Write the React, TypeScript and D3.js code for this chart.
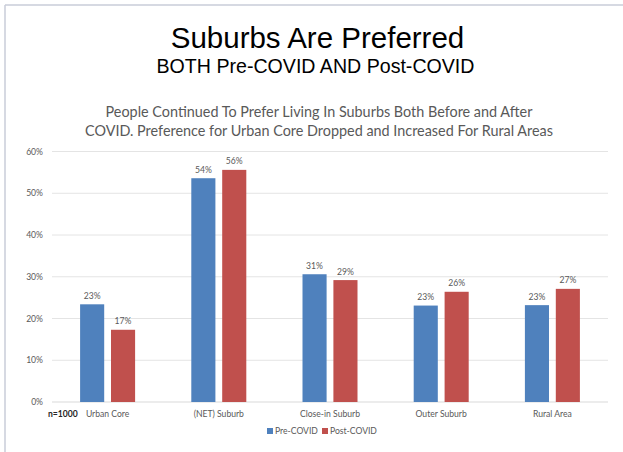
import React from "react";
import * as d3 from "d3";

const categories = ["Urban Core", "(NET) Suburb", "Close-in Suburb", "Outer Suburb", "Rural Area"];
const preCovid = [23.4, 53.6, 30.6, 23.1, 23.2];
const postCovid = [17.3, 55.6, 29.2, 26.4, 27.1];
const preLabels = ["23%", "54%", "31%", "23%", "23%"];
const postLabels = ["17%", "56%", "29%", "26%", "27%"];
const yTicks = [0, 10, 20, 30, 40, 50, 60];
const seriesNames = ["Pre-COVID", "Post-COVID"];

const W = 623;
const H = 452;
const BLUE = "#4f81bd";
const RED = "#c0504d";
const GRAY = "#595959";
const CAL = "Lato, 'Open Sans', sans-serif";
const FS = 8.6;

export default function App() {
  const x = d3.scaleBand<string>().domain(categories).range([52, 608]).paddingInner(0).paddingOuter(0);
  const y = d3.scaleLinear().domain([0, 60]).range([402, 151.5]);
  const half = 27.5;
  const inner = d3
    .scaleBand<string>()
    .domain(seriesNames)
    .range([x.bandwidth() / 2 - half, x.bandwidth() / 2 + half])
    .paddingInner(0.22)
    .paddingOuter(0);
  const series = [
    { name: seriesNames[0], values: preCovid, labels: preLabels, color: BLUE },
    { name: seriesNames[1], values: postCovid, labels: postLabels, color: RED },
  ];
  return (
    <svg width={W} height={H} style={{ position: "fixed", left: 0, top: 0, background: "#fff" }}>
      <rect x={0} y={0} width={W} height={H} fill="#fff" />
      <line x1={5} x2={W} y1={5} y2={5} stroke="#c9cdd8" strokeWidth={1.5} />
      <line x1={5} x2={5} y1={5} y2={H} stroke="#c9cdd8" strokeWidth={1.5} />
      <text x={317.5} y={48} textAnchor="middle" fontFamily="'Liberation Sans', Arial, sans-serif" fontSize={29.5} fill="#000">
        Suburbs Are Preferred
      </text>
      <text x={315.5} y={73} textAnchor="middle" fontFamily="'Liberation Sans', Arial, sans-serif" fontSize={19.6} fill="#000">
        BOTH Pre-COVID AND Post-COVID
      </text>
      <text x={319} y={117} textAnchor="middle" fontFamily={CAL} fontSize={14.4} fill={GRAY}>
        People Continued To Prefer Living In Suburbs Both Before and After
      </text>
      <text x={319} y={136} textAnchor="middle" fontFamily={CAL} fontSize={14.4} fill={GRAY}>
        COVID. Preference for Urban Core Dropped and Increased For Rural Areas
      </text>
      {yTicks.map((t) => (
        <g key={t}>
          <line x1={52} x2={608} y1={y(t)} y2={y(t)} stroke={t === 0 ? "#d9d9d9" : "#e4e4e4"} strokeWidth={1} />
          <text x={43} y={y(t) + 3} textAnchor="end" fontFamily={CAL} fontSize={FS} fill={GRAY}>
            {t}%
          </text>
        </g>
      ))}
      {categories.map((c, i) => (
        <g key={c} transform={`translate(${x(c)},0)`}>
          {series.map((s) => (
            <g key={s.name}>
              <rect x={inner(s.name)} y={y(s.values[i])} width={inner.bandwidth()} height={y(0) - y(s.values[i])} fill={s.color} />
              <text x={(inner(s.name) as number) + inner.bandwidth() / 2} y={y(s.values[i]) - 5.5} textAnchor="middle" fontFamily={CAL} fontSize={FS} fill={GRAY}>
                {s.labels[i]}
              </text>
            </g>
          ))}
          <text x={x.bandwidth() / 2} y={417} textAnchor="middle" fontFamily={CAL} fontSize={FS} fill={GRAY}>
            {c}
          </text>
        </g>
      ))}
      <text x={48} y={417} fontFamily={CAL} fontSize={FS} fontWeight="bold" fill="#262626">
        n=1000
      </text>
      <g fontFamily={CAL} fontSize={FS} fill={GRAY}>
        <rect x={267} y={428} width={6} height={6} fill={BLUE} />
        <text x={275} y={434}>Pre-COVID</text>
        <rect x={322} y={428} width={6} height={6} fill={RED} />
        <text x={330} y={434}>Post-COVID</text>
      </g>
    </svg>
  );
}
